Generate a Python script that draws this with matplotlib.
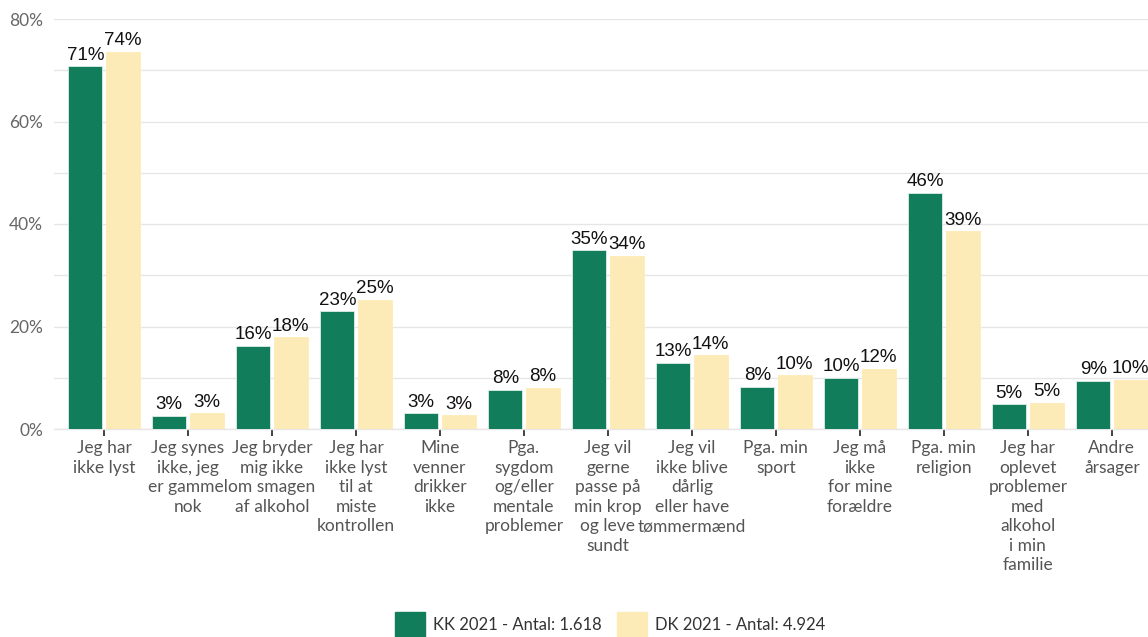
import matplotlib
matplotlib.use("Agg")
import matplotlib.pyplot as plt
import numpy as np
from matplotlib.patches import Patch

categories = [
    "Jeg har\nikke lyst",
    "Jeg synes\nikke, jeg\ner gammel\nnok",
    "Jeg bryder\nmig ikke\nom smagen\naf alkohol",
    "Jeg har\nikke lyst\ntil at\nmiste\nkontrollen",
    "Mine\nvenner\ndrikker\nikke",
    "Pga.\nsygdom\nog/eller\nmentale\nproblemer",
    "Jeg vil\ngerne\npasse på\nmin krop\nog leve\nsundt",
    "Jeg vil\nikke blive\ndårlig\neller have\ntømmermænd",
    "Pga. min\nsport",
    "Jeg må\nikke\nfor mine\nforældre",
    "Pga. min\nreligion",
    "Jeg har\noplevet\nproblemer\nmed\nalkohol\ni min\nfamilie",
    "Andre\nårsager",
]
kk_values = [70.8, 2.6, 16.2, 23.0, 3.1, 7.6, 34.9, 12.9, 8.2, 10.0, 46.1, 4.8, 9.4]
dk_values = [73.6, 3.1, 17.9, 25.2, 2.7, 8.0, 33.8, 14.4, 10.5, 11.7, 38.6, 5.1, 9.6]
series_names = ["KK 2021 - Antal: 1.618", "DK 2021 - Antal: 4.924"]
yticks = [0, 20, 40, 60, 80]

green = "#117D5B"
yellow = "#FDEBB7"

W, H = 1148, 637
fig = plt.figure(figsize=(W / 100, H / 100), dpi=100)
ax = fig.add_axes([54 / W, (H - 429) / H, (W - 54) / W, 410 / H])

x = np.arange(len(categories))
bw = 0.405
off = 0.222
b1 = ax.bar(x - off, kk_values, bw, color=green, edgecolor="#DDEFE6", linewidth=0.6, zorder=3)
b2 = ax.bar(x + off, dk_values, bw, color=yellow, edgecolor=yellow, linewidth=0.6, zorder=3)

for bars, vals in ((b1, kk_values), (b2, dk_values)):
    for r, v in zip(bars, vals):
        ax.text(r.get_x() + r.get_width() / 2, v + 0.5, f"{round(v):d}%",
                ha="center", va="bottom", fontsize=13.5, color="#111111",
                family="Liberation Sans", zorder=4)

ax.set_xlim(-0.595, 12.43)
ax.set_ylim(0, 80)
ax.set_yticks(yticks)
ax.set_yticklabels([f"{t}%" for t in yticks], fontsize=12.5, color="#666666", family="Lato")
ax.set_yticks([10, 30, 50, 70], minor=True)
ax.tick_params(axis="y", which="both", length=0, pad=8)
ax.grid(axis="y", which="both", color="#E6E6E6", linewidth=1.0, zorder=0)

ax.set_xticks(x)
ax.set_xticklabels(categories, fontsize=12.5, color="#555555", family="Lato",
                   linespacing=1.27)
ax.tick_params(axis="x", length=5, width=1.2, color="#222222", pad=3)

for s in ("top", "right", "left"):
    ax.spines[s].set_visible(False)
ax.spines["bottom"].set_color("#E6E6E6")
ax.spines["bottom"].set_linewidth(1.0)

handles = [Patch(facecolor=green, edgecolor=green), Patch(facecolor=yellow, edgecolor=yellow)]
fig.legend(handles, series_names, loc="upper left",
           bbox_to_anchor=(395 / W, 1 - 612 / H), ncol=2, frameon=False,
           prop={"family": "Lato", "size": 12},
           handlelength=1.8, handleheight=1.9, handletextpad=0.5,
           columnspacing=0.9, borderpad=0, borderaxespad=0,
           labelcolor="#333333")

fig.savefig("out.png", dpi=100)
